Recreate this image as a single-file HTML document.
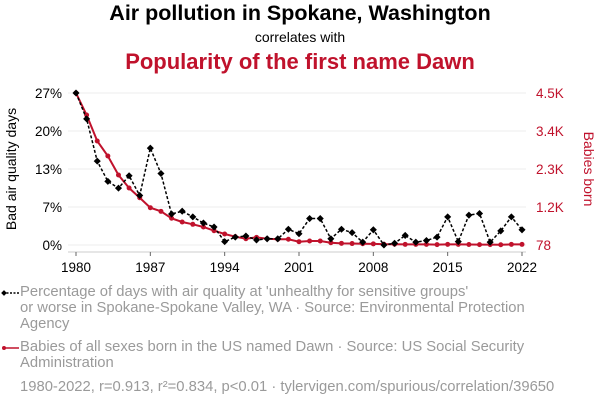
<!DOCTYPE html>
<html><head><meta charset="utf-8"><style>
body{margin:0;background:#fff;font-family:"Liberation Sans",sans-serif;}
#wrap{position:relative;width:600px;height:408px;overflow:hidden;}
.t{position:absolute;left:0;width:600px;text-align:center;}
.leg{position:absolute;left:20px;color:#9a9a9a;font-size:14.8px;line-height:16px;white-space:nowrap;}
</style></head><body>
<div id="wrap">
<div class="t" style="top:1px;font-size:21.5px;font-weight:bold;color:#000">Air pollution in Spokane, Washington</div>
<div class="t" style="top:29px;font-size:14px;color:#000">correlates with</div>
<div class="t" style="top:49px;font-size:22px;font-weight:bold;color:#c0122c">Popularity of the first name Dawn</div>
<svg id="svg" width="600" height="280" style="position:absolute;left:0;top:0"></svg>
<div class="leg" style="top:284px;">Percentage of days with air quality at 'unhealthy for sensitive groups'<br>or worse in Spokane-Spokane Valley, WA · Source: Environmental Protection<br>Agency</div>
<div class="leg" style="top:339px;">Babies of all sexes born in the US named Dawn · Source: US Social Security<br>Administration</div>
<div class="leg" style="top:379px;">1980-2022, r=0.913, r²=0.834, p&lt;0.01 · tylervigen.com/spurious/correlation/39650</div>
<svg width="20" height="100" style="position:absolute;left:0;top:283px">
<line x1="3" y1="10" x2="19" y2="10" stroke="#000" stroke-width="1.5" stroke-dasharray="2,1.5"/>
<rect x="2" y="8" width="4" height="4" transform="rotate(45 4 10)" fill="#000"/>
<line x1="3" y1="65" x2="19" y2="65" stroke="#c0122c" stroke-width="1.5"/>
<circle cx="4" cy="65" r="2" fill="#c0122c"/>
</svg>
</div>
<script>
const years=[];for(let y=1980;y<=2022;y++)years.push(y);
const airPct=[27,22.4,14.9,11.3,10.1,12.3,8.8,17.2,12.7,5.5,6.0,5.0,3.9,3.2,0.6,1.4,1.6,0.9,1.1,1.1,2.8,2.0,4.7,4.7,1.1,2.8,2.2,0.5,2.7,0,0.3,1.7,0.5,0.8,1.4,5.0,0.6,5.3,5.6,0.5,2.5,5.0,2.7];
const dawnBabies=[4500,3860,3104,2667,2114,1736,1454,1163,1058,855,747,680,602,494,398,320,261,300,261,244,244,174,194,194,145,127,120,115,110,100,100,95,95,95,90,95,95,92,90,88,85,95,95];
const xTicks=[1980,1987,1994,2001,2008,2015,2022];
const leftTickVals=[0,6.75,13.5,20.25,27];
const leftTickLabels=["0%","7%","13%","20%","27%"];
const rightTickVals=[78,1183.5,2289,3394.5,4500];
const rightTickLabels=["78","1.2K","2.3K","3.4K","4.5K"];
const X0=76,X1=522,Y0=245,Y1=93;
const x=v=>X0+(v-1980)/(2022-1980)*(X1-X0);
const yL=v=>Y0-(v-0)/(27-0)*(Y0-Y1);
const yR=v=>Y0-(v-78)/(4500-78)*(Y0-Y1);
const svg=document.getElementById('svg');const NS="http://www.w3.org/2000/svg";
function mk(t,a,p){const e=document.createElementNS(NS,t);for(const k in a)e.setAttribute(k,a[k]);(p||svg).appendChild(e);return e;}
leftTickVals.forEach((v,i)=>{
 const g=mk('line',{x1:X0-8,x2:X1+4,y1:yL(v),y2:yL(v),stroke:'#eee','stroke-width':1});
 
 
 const t=mk('text',{x:62,y:yL(v)+5,'text-anchor':'end','font-size':13.5,fill:'#000'});t.textContent=leftTickLabels[i];
 
 
});
rightTickVals.forEach((v,i)=>{
 const t=mk('text',{x:536,y:yR(v)+5,'font-size':13.5,fill:'#c0122c'});t.textContent=rightTickLabels[i];
 
 
});
const ax=mk('line',{x1:X0-8,x2:X1+4,y1:252,y2:252,stroke:'#ccc','stroke-width':1});


xTicks.forEach(v=>{
 mk('line',{x1:x(v),x2:x(v),y1:252,y2:256,stroke:'#666'});
 const t=mk('text',{x:x(v),y:272,'text-anchor':'middle','font-size':13.5,fill:'#000'});t.textContent=v;
 
 
});
const lt=mk('text',{transform:'translate(16,169) rotate(-90)','text-anchor':'middle','font-size':14,fill:'#000'});lt.textContent='Bad air quality days';


const rt=mk('text',{transform:'translate(584,169) rotate(90)','text-anchor':'middle','font-size':14,fill:'#c0122c'});rt.textContent='Babies born';


const rl=mk('polyline',{points:years.map((yr,i)=>x(yr)+','+yR(dawnBabies[i])).join(' '),fill:'none',stroke:'#c0122c','stroke-width':2});


years.forEach((yr,i)=>{const c=mk('circle',{cx:x(yr),cy:yR(dawnBabies[i]),r:2.5,fill:'#c0122c'});
 
 });
const bl=mk('polyline',{points:years.map((yr,i)=>x(yr)+','+yL(airPct[i])).join(' '),fill:'none',stroke:'#000','stroke-width':1.5,'stroke-dasharray':'3,2'});


years.forEach((yr,i)=>{const px=x(yr),py=yL(airPct[i]);const r=mk('rect',{x:px-2.5,y:py-2.5,width:5,height:5,fill:'#000',transform:`rotate(45 ${px} ${py})`});
 
 });
</script>
</body></html>
